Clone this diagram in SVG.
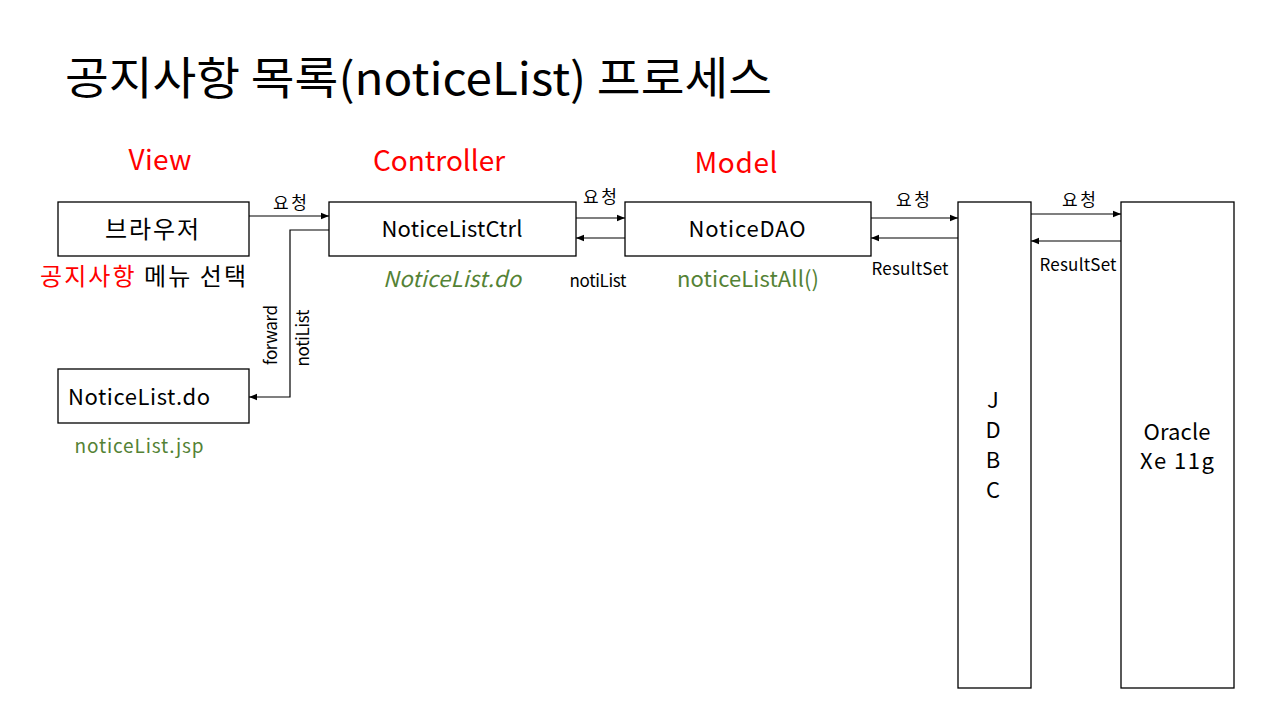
<svg xmlns="http://www.w3.org/2000/svg" width="1280" height="720" viewBox="0 0 1280 720">
<defs>
<marker id="ah" viewBox="0 0 10 10" refX="10" refY="5" markerWidth="8" markerHeight="8" markerUnits="userSpaceOnUse" orient="auto"><path d="M0,1 L10,5 L0,9 z" fill="#000"/></marker>
<style>
text{font-family:"Noto Sans CJK KR","Liberation Sans",sans-serif;fill:#000}
.box{fill:#fff;stroke:#000;stroke-width:1.3}
.con{fill:none;stroke:#000;stroke-width:1.2;marker-end:url(#ah)}
.lay{font-size:28px;fill:#ff0000;text-anchor:middle}
.nt{font-size:22px;text-anchor:middle}
.sm{font-size:17px;text-anchor:middle}
.gr{fill:#548235;font-size:22px;text-anchor:middle}
</style>
</defs>
<rect width="1280" height="720" fill="#fff"/>
<text x="65" y="95" style="font-size:45px" textLength="707" lengthAdjust="spacingAndGlyphs">공지사항 목록(noticeList) 프로세스</text>
<text class="lay" x="160" y="170" textLength="63">View</text>
<text class="lay" x="439" y="171" textLength="132">Controller</text>
<text class="lay" x="736" y="173" textLength="83">Model</text>

<g id="browser"><rect class="box" x="58" y="202" width="191" height="54"/><text class="nt" x="152" y="238" style="font-size:24px" textLength="94">브라우저</text>
<text x="40" y="285" style="font-size:24px" textLength="206"><tspan fill="#ff0000">공지사항</tspan> 메뉴 선택</text></g>
<g id="ctrl"><rect class="box" x="329" y="202" width="247" height="54"/><text class="nt" x="452" y="237" textLength="141">NoticeListCtrl</text>
<text class="gr" x="452" y="287" style="font-style:italic" textLength="138">NoticeList.do</text></g>
<g id="dao"><rect class="box" x="625" y="202" width="246" height="54"/><text class="nt" x="747" y="237" textLength="117">NoticeDAO</text>
<text class="gr" x="748" y="287" textLength="142">noticeListAll()</text></g>
<g id="jdbc"><rect class="box" x="958" y="202" width="73" height="486"/>
<text class="nt" x="993" y="408">J</text><text class="nt" x="993" y="438">D</text><text class="nt" x="993" y="468">B</text><text class="nt" x="993" y="498">C</text></g>
<g id="oracle"><rect class="box" x="1121" y="202" width="113" height="486"/>
<text class="nt" x="1177" y="440" textLength="67">Oracle</text><text class="nt" x="1177" y="469" textLength="74">Xe 11g</text></g>
<g id="noticelist"><rect class="box" x="58" y="369" width="191" height="54"/><text class="nt" x="139" y="405" textLength="142">NoticeList.do</text>
<text class="gr" x="139" y="453" style="font-size:19px" textLength="129">noticeList.jsp</text></g>

<g id="connectors">
<path class="con" d="M249,216 H329"/>
<path class="con" d="M329,230 H290 V397 H249"/>
<path class="con" d="M576,218 H625"/>
<path class="con" d="M625,238 H576"/>
<path class="con" d="M871,218 H958"/>
<path class="con" d="M958,238 H871"/>
<path class="con" d="M1031,214 H1121"/>
<path class="con" d="M1121,241 H1031"/>
</g>
<g id="labels">
<text class="sm" x="290" y="209" textLength="34">요청</text>
<text class="sm" x="600" y="203" textLength="34">요청</text>
<text class="sm" x="913" y="206" textLength="34">요청</text>
<text class="sm" x="1079" y="206" textLength="34">요청</text>
<text class="sm" x="598" y="287" textLength="57">notiList</text>
<text class="sm" x="910" y="275" textLength="77">ResultSet</text>
<text class="sm" x="1078" y="271" textLength="77">ResultSet</text>
<text class="sm" transform="translate(277,335) rotate(-90)" textLength="60">forward</text>
<text class="sm" transform="translate(309,338) rotate(-90)" textLength="57">notiList</text>
</g>
</svg>
